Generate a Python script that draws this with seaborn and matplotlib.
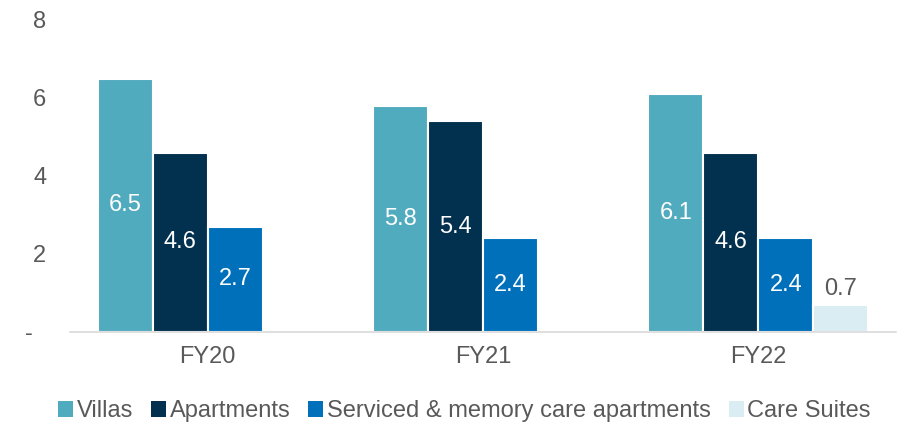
import matplotlib
matplotlib.use("Agg")
import matplotlib.pyplot as plt
import seaborn as sns
import pandas as pd
import numpy as np

categories = ["FY20", "FY21", "FY22"]
series = ["Villas", "Apartments", "Serviced & memory care apartments", "Care Suites"]
villas = [6.5, 5.8, 6.1]
apartments = [4.6, 5.4, 4.6]
serviced = [2.7, 2.4, 2.4]
care_suites = [None, None, 0.7]
colors = ["#51ABBE", "#02304F", "#0070BB", "#D9EDF2"]
ytick_vals = [0, 2, 4, 6, 8]
ytick_labels = ["-  ", "2", "4", "6", "8"]

rows = []
for name, vals in zip(series, [villas, apartments, serviced, care_suites]):
    for c, v in zip(categories, vals):
        if v is not None:
            rows.append({"Year": c, "Type": name, "Value": v})
df = pd.DataFrame(rows)

sns.set_theme(style="white")
plt.rcParams["font.family"] = ["Liberation Sans", "DejaVu Sans"]
FS = 17
TXT = "#595959"

fig = plt.figure(figsize=(9.07, 4.22), dpi=100)
ax = fig.add_axes([70 / 907, (422 - 332) / 422, (896 - 70) / 907, (332 - 20) / 422])

sns.barplot(data=df, x="Year", y="Value", hue="Type", order=categories,
            hue_order=series, palette=colors, ax=ax, width=0.8,
            edgecolor="white", linewidth=1.5, saturation=1, legend=True)

for cont, name in zip(ax.containers, series):
    for bar in cont:
        h = bar.get_height()
        if h is None or np.isnan(h):
            continue
        xc = bar.get_x() + bar.get_width() / 2
        if name == "Care Suites":
            ax.text(xc, h + 0.12, f"{h:.1f}", ha="center", va="bottom",
                    color=TXT, fontsize=FS)
        else:
            ax.text(xc, h / 2, f"{h:.1f}", ha="center", va="center",
                    color="white", fontsize=FS)

ax.set_ylim(0, 8)
ax.set_xlim(-0.5, 2.5)
ax.set_yticks(ytick_vals)
ax.set_yticklabels(ytick_labels)
ax.set_xlabel("")
ax.set_ylabel("")
ax.tick_params(axis="both", length=0, labelsize=FS, labelcolor=TXT)
ax.tick_params(axis="y", pad=17)
ax.tick_params(axis="x", pad=10)
for s in ["top", "right", "left"]:
    ax.spines[s].set_visible(False)
ax.spines["bottom"].set_color("#D9D9D9")
ax.spines["bottom"].set_linewidth(1.2)

handles, labels = ax.get_legend_handles_labels()
ax.get_legend().remove()
leg = fig.legend(handles, labels, loc="center", bbox_to_anchor=(0.512, (422 - 411) / 422),
                 ncol=4, frameon=False, fontsize=FS, handlelength=0.65, handleheight=0.65,
                 handletextpad=0.15, columnspacing=0.75, borderaxespad=0)
for t in leg.get_texts():
    t.set_color(TXT)
for p in leg.get_patches():
    p.set_edgecolor("none")

fig.savefig("out.png", dpi=100)
